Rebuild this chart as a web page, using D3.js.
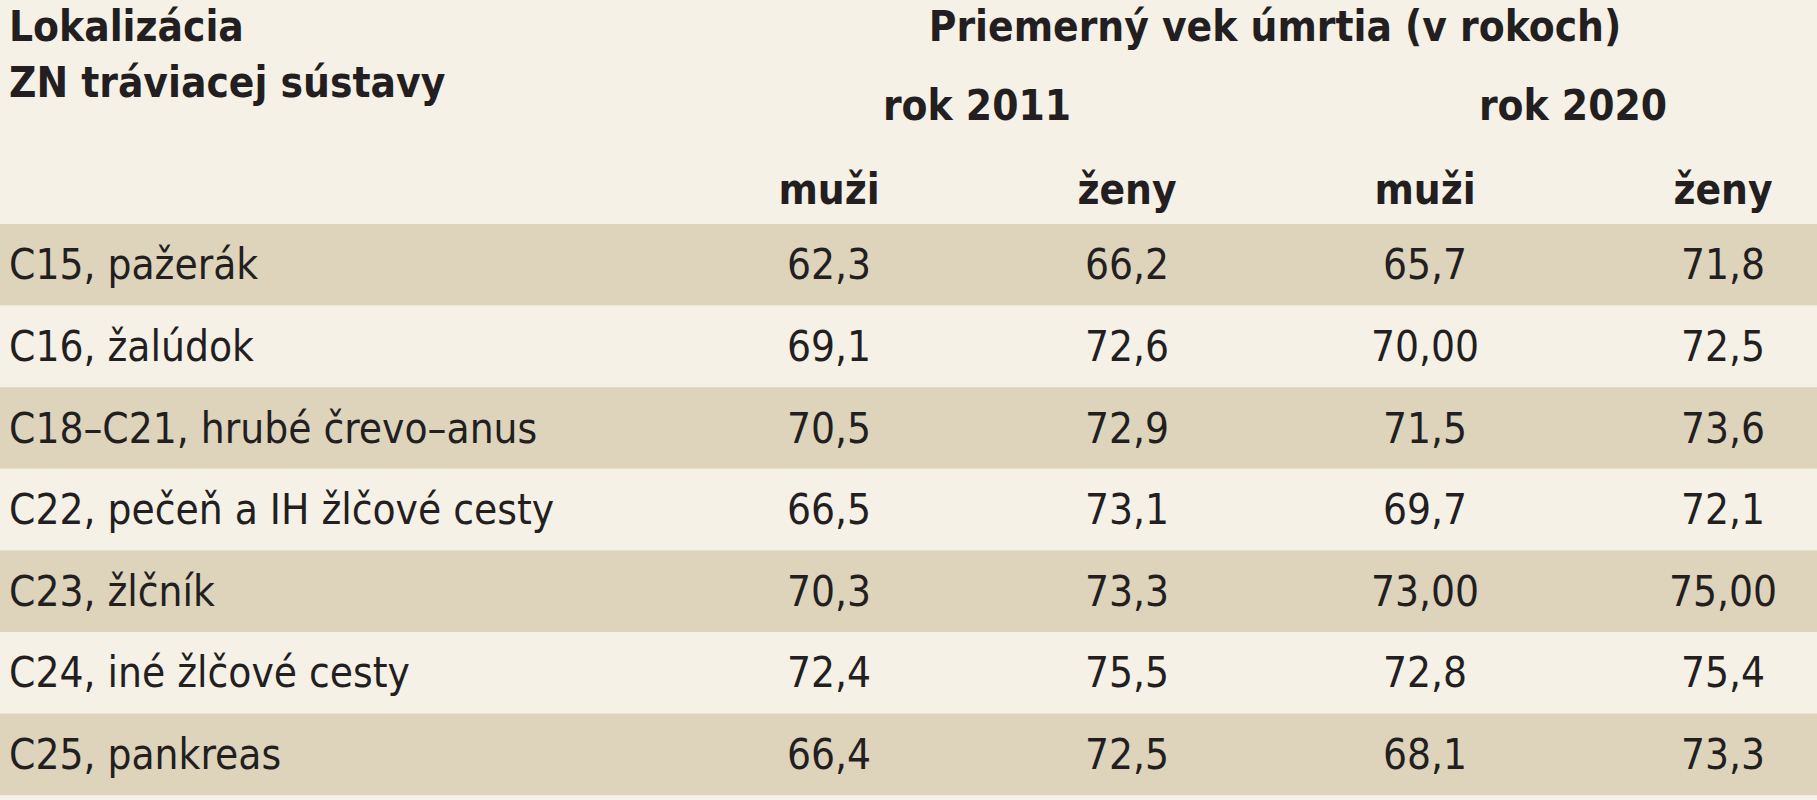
<!DOCTYPE html><html><head><meta charset="utf-8">
<script src="https://cdn.jsdelivr.net/npm/d3@7"></script>
<style>body{margin:0;background:#f6f1e7}svg{display:block}</style></head><body><svg id="c" width="1817" height="800"></svg>
<script>
const categories=["C15, pažerák","C16, žalúdok","C18–C21, hrubé črevo–anus","C22, pečeň a IH žlčové cesty","C23, žlčník","C24, iné žlčové cesty","C25, pankreas"];
const men2011=["62,3","69,1","70,5","66,5","70,3","72,4","66,4"];
const women2011=["66,2","72,6","72,9","73,1","73,3","75,5","72,5"];
const men2020=["65,7","70,00","71,5","69,7","73,00","72,8","68,1"];
const women2020=["71,8","72,5","73,6","72,1","75,00","75,4","73,3"];
const colLabels=["muži","ženy","muži","ženy"];
const yearLabels=["rok 2011","rok 2020"];
const svg=d3.select("#c");
const F="'Liberation Sans Narrow','DejaVu Sans Condensed',sans-serif";
svg.append("rect").attr("width",1817).attr("height",800).attr("fill","#f6f1e7");
const y=d3.scaleBand().domain(categories).range([224,224+81.6*7]);
const x=d3.scaleOrdinal().domain([0,1,2,3]).range([829,1127,1425,1723]);
svg.selectAll("rect.s").data(categories).join("rect").attr("x",0).attr("width",1817)
 .attr("y",d=>y(d)).attr("height",y.bandwidth()).attr("fill",(d,i)=>i%2==0?"#ddd4bb":"#f6f1e7");
const t=(txt,xx,yy,anchor,bold)=>svg.append("text").attr("x",xx).attr("y",yy).attr("text-anchor",anchor)
 .attr("dominant-baseline","central").attr("font-family",F).attr("font-size",42).attr("font-weight",bold?"bold":"normal").attr("fill","#231f20").text(txt);
t("Lokalizácia",9,26,"start",true);t("ZN tráviacej sústavy",9,82,"start",true);
t("Priemerný vek úmrtia (v rokoch)",1275,26,"middle",true);
yearLabels.forEach((l,i)=>t(l,[977,1573][i],105,"middle",true));
colLabels.forEach((l,i)=>t(l,x(i),189,"middle",true));
const series=[men2011,women2011,men2020,women2020];
categories.forEach((c,r)=>{
 t(c,9,y(c)+y.bandwidth()/2,"start",false);
 series.forEach((s,j)=>t(s[r],x(j),y(c)+y.bandwidth()/2,"middle",false));
});
</script></body></html>
